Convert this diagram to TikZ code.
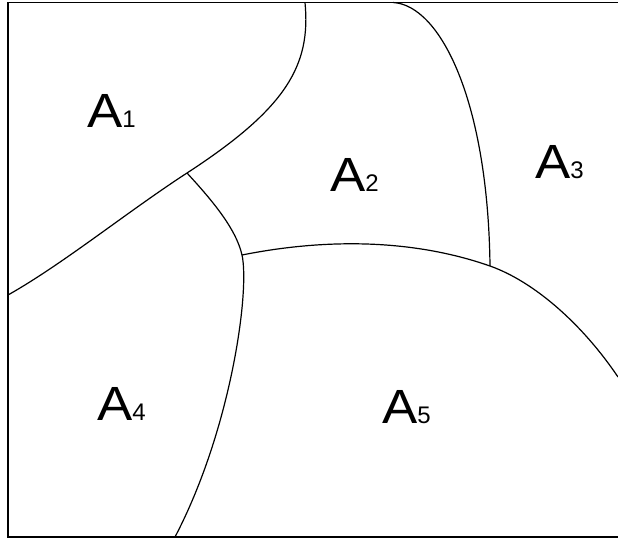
\documentclass[tikz,border=0pt]{standalone}
\usepackage{graphicx}
\usepackage{fontspec}
\setmainfont{Liberation Sans}
\usetikzlibrary{positioning}
\newcommand{\regname}[1]{\scalebox{1.1}[1]{A}{\fontsize{18}{18}\selectfont #1}}

\begin{document}
\begin{tikzpicture}[
  x=0.75pt, y=-0.75pt,
  frame/.style={draw, line width=1.3pt},
  border/.style={draw, line width=0.9pt},
  region/.style={inner sep=0pt, anchor=base west, font=\fontsize{36}{36}\selectfont},
]
  \useasboundingbox (0,0) rectangle (618,539);
  \clip (0,0) rectangle (618,539);
  \draw[frame] (8,2.5) rectangle (640,537);

  % meeting points of the borders
  \coordinate (j1) at (187,173);
  \coordinate (j2) at (242,255);
  \coordinate (j3) at (490,266);
  % ends on the frame
  \coordinate (t1) at (305,2.5);
  \coordinate (t2) at (393,2.5);
  \coordinate (l1) at (8,295);
  \coordinate (b1) at (175,537);
  \coordinate (r1) at (618,377);

  \draw[border] (t1) .. controls (311,65) and (287,108) .. (j1)
                     .. controls (127,212) and (63,264) .. (l1);
  \draw[border] (j1) .. controls (210,198) and (236,228) .. (j2)
                     .. controls (250,291) and (231,430) .. (b1);
  \draw[border] (j2) .. controls (322,239) and (410,238) .. (j3)
                     .. controls (535,282) and (583,325) .. (r1);
  \draw[border] (t2) .. controls (440,5) and (488,100) .. (j3);

  \node[region] (a1) at (87,127) {\regname{1}};
  \node[region] (a2) at (330,191) {\regname{2}};
  \node[region] (a3) at (535,178) {\regname{3}};
  \node[region] (a4) at (97,420) {\regname{4}};
  \node[region] (a5) at (382,423) {\regname{5}};
\end{tikzpicture}
\end{document}
